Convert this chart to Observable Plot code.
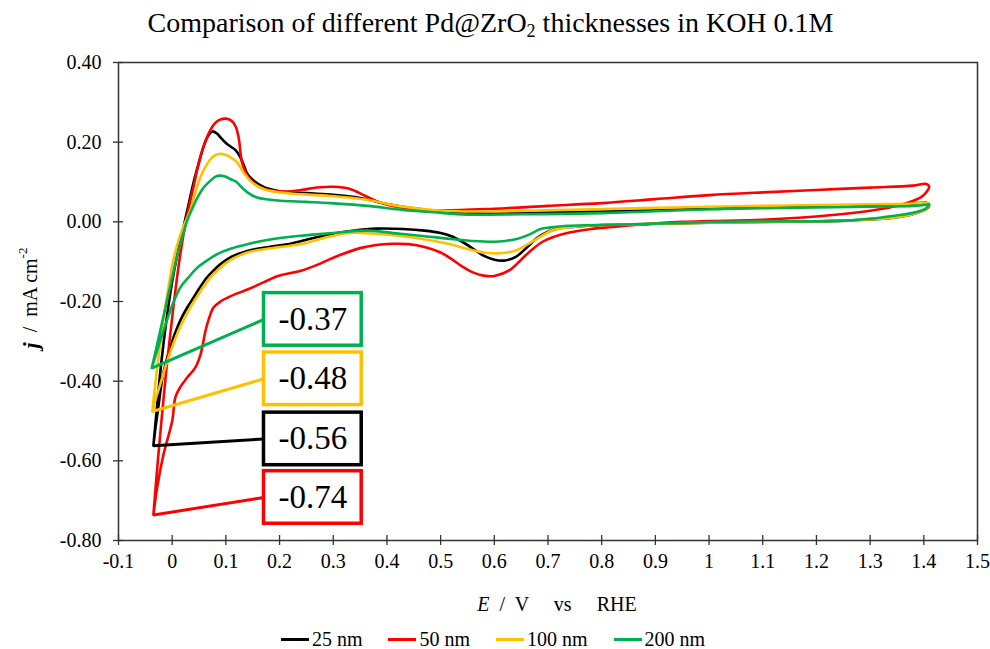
<!DOCTYPE html>
<html><head><meta charset="utf-8">
<script src="https://cdn.jsdelivr.net/npm/d3@7"></script>
<script src="https://cdn.jsdelivr.net/npm/@observablehq/plot@0.6"></script>
<style>
body{margin:0;background:#fff;font-family:"Liberation Serif","Times New Roman",serif;color:#000;}
#wrap{position:relative;width:990px;height:649px;overflow:hidden;}
#title{position:absolute;left:0;top:9px;width:981px;text-align:center;font-size:28px;line-height:28px;white-space:nowrap;}
#title sub{font-size:18px;line-height:0;vertical-align:-5px;}
#chart{position:absolute;left:0;top:50px;}
#legend{position:absolute;left:0;top:628px;width:986px;display:flex;justify-content:center;gap:26px;font-size:20px;line-height:22px;}
.item{display:flex;align-items:center;gap:3px;}
.sw{width:28px;height:3px;display:inline-block;}
</style></head>
<body>
<div id="wrap">
  <div id="title">Comparison of different Pd@ZrO<sub>2</sub> thicknesses in KOH 0.1M</div>
  <div id="chart"></div>
  <div id="legend"></div>
</div>
<script>
// ---- data ----
const seriesNames = ["25 nm", "50 nm", "100 nm", "200 nm"];
const seriesColors = ["#000000", "#ff0000", "#ffc000", "#00b050"];
const xTicks = [-0.1, 0, 0.1, 0.2, 0.3, 0.4, 0.5, 0.6, 0.7, 0.8, 0.9, 1, 1.1, 1.2, 1.3, 1.4, 1.5];
const yTicks = [-0.8, -0.6, -0.4, -0.2, 0, 0.2, 0.4];

// cyclic voltammograms: [E (V vs RHE), j (mA cm-2)], anodic sweep then cathodic sweep
const cv25 = [[-0.035,-0.562],[-0.028,-0.46],[-0.02,-0.35],[-0.01,-0.24],[0.0,-0.15],[0.01,-0.08],[0.02,-0.02],[0.03,0.04],[0.04,0.10],[0.05,0.15],[0.06,0.195],[0.068,0.218],[0.075,0.227],[0.083,0.222],[0.09,0.212],[0.1,0.198],[0.11,0.188],[0.118,0.18],[0.127,0.162],[0.134,0.14],[0.14,0.12],[0.152,0.103],[0.171,0.087],[0.2,0.077],[0.25,0.072],[0.3,0.068],[0.35,0.06],[0.4,0.045],[0.45,0.034],[0.5,0.026],[0.55,0.022],[0.6,0.021],[0.7,0.023],[0.8,0.026],[0.9,0.029],[1.0,0.033],[1.1,0.036],[1.2,0.039],[1.3,0.042],[1.38,0.045],[1.405,0.048],[1.41,0.042],
 [1.405,0.032],[1.39,0.024],[1.37,0.016],[1.34,0.01],[1.3,0.006],[1.25,0.003],[1.2,0.001],[1.1,0.0],[1.0,-0.002],[0.9,-0.005],[0.8,-0.008],[0.75,-0.012],[0.72,-0.016],[0.7,-0.025],[0.68,-0.04],[0.66,-0.065],[0.64,-0.088],[0.62,-0.097],[0.6,-0.095],[0.58,-0.085],[0.56,-0.067],[0.54,-0.05],[0.52,-0.036],[0.5,-0.028],[0.47,-0.022],[0.43,-0.018],[0.38,-0.017],[0.35,-0.02],[0.3,-0.03],[0.25,-0.045],[0.22,-0.055],[0.18,-0.063],[0.14,-0.073],[0.11,-0.088],[0.09,-0.106],[0.075,-0.125],[0.065,-0.139],[0.05,-0.168],[0.04,-0.19],[0.028,-0.215],[0.015,-0.248],[0.0,-0.30],[-0.01,-0.345],[-0.018,-0.39],[-0.025,-0.457],[-0.031,-0.516],[-0.035,-0.562]];

const cv50 = [[-0.035,-0.736],[-0.028,-0.62],[-0.02,-0.5],[-0.01,-0.36],[0.0,-0.24],[0.01,-0.13],[0.02,-0.04],[0.03,0.03],[0.04,0.09],[0.05,0.15],[0.06,0.195],[0.07,0.228],[0.08,0.248],[0.09,0.257],[0.1,0.259],[0.11,0.254],[0.118,0.24],[0.124,0.21],[0.13,0.15],[0.14,0.116],[0.158,0.091],[0.18,0.08],[0.21,0.076],[0.24,0.08],[0.27,0.086],[0.3,0.088],[0.33,0.083],[0.36,0.065],[0.39,0.047],[0.44,0.033],[0.5,0.029],[0.6,0.033],[0.7,0.04],[0.8,0.047],[0.9,0.057],[1.0,0.067],[1.1,0.074],[1.2,0.080],[1.3,0.086],[1.38,0.091],[1.405,0.095],[1.41,0.088],
 [1.405,0.075],[1.395,0.062],[1.37,0.048],[1.32,0.032],[1.23,0.017],[1.1,0.005],[1.0,0.002],[0.95,0.0],[0.86,-0.008],[0.78,-0.018],[0.74,-0.027],[0.71,-0.038],[0.69,-0.05],[0.67,-0.07],[0.65,-0.095],[0.63,-0.12],[0.6,-0.136],[0.58,-0.135],[0.56,-0.127],[0.54,-0.112],[0.52,-0.093],[0.5,-0.077],[0.47,-0.063],[0.44,-0.056],[0.41,-0.055],[0.38,-0.058],[0.35,-0.066],[0.3,-0.09],[0.27,-0.108],[0.24,-0.123],[0.2,-0.135],[0.17,-0.152],[0.14,-0.17],[0.11,-0.186],[0.09,-0.2],[0.077,-0.215],[0.068,-0.245],[0.062,-0.274],[0.053,-0.332],[0.043,-0.366],[0.028,-0.391],[0.015,-0.415],[0.006,-0.44],[0.0,-0.5],[-0.016,-0.583],[-0.028,-0.667],[-0.035,-0.736]];

const cv100 = [[-0.037,-0.476],[-0.03,-0.39],[-0.02,-0.28],[-0.01,-0.19],[0.0,-0.11],[0.01,-0.055],[0.02,-0.015],[0.034,0.03],[0.046,0.086],[0.055,0.12],[0.065,0.145],[0.075,0.163],[0.089,0.171],[0.1,0.168],[0.109,0.162],[0.121,0.149],[0.133,0.124],[0.149,0.099],[0.171,0.082],[0.2,0.074],[0.22,0.071],[0.295,0.065],[0.36,0.056],[0.42,0.04],[0.49,0.029],[0.55,0.026],[0.6,0.026],[0.7,0.029],[0.8,0.032],[0.9,0.035],[1.0,0.038],[1.1,0.040],[1.2,0.042],[1.3,0.044],[1.38,0.046],[1.405,0.048],[1.41,0.043],
 [1.405,0.032],[1.39,0.024],[1.37,0.016],[1.34,0.01],[1.3,0.006],[1.25,0.003],[1.2,0.001],[1.1,0.0],[1.0,-0.002],[0.9,-0.005],[0.8,-0.008],[0.75,-0.012],[0.72,-0.017],[0.705,-0.023],[0.68,-0.042],[0.66,-0.058],[0.64,-0.072],[0.61,-0.079],[0.58,-0.077],[0.55,-0.068],[0.52,-0.057],[0.48,-0.046],[0.43,-0.036],[0.38,-0.03],[0.33,-0.028],[0.29,-0.038],[0.24,-0.056],[0.22,-0.06],[0.18,-0.067],[0.14,-0.077],[0.11,-0.095],[0.09,-0.115],[0.071,-0.14],[0.05,-0.18],[0.034,-0.215],[0.02,-0.25],[0.009,-0.282],[-0.009,-0.349],[-0.022,-0.407],[-0.032,-0.45],[-0.037,-0.476]];

const cv200 = [[-0.038,-0.367],[-0.025,-0.29],[-0.01,-0.2],[0.005,-0.11],[0.015,-0.056],[0.028,0.003],[0.038,0.035],[0.047,0.061],[0.058,0.085],[0.071,0.103],[0.08,0.113],[0.089,0.116],[0.1,0.113],[0.109,0.107],[0.12,0.1],[0.127,0.09],[0.14,0.074],[0.158,0.061],[0.18,0.056],[0.202,0.053],[0.25,0.05],[0.295,0.047],[0.363,0.04],[0.43,0.03],[0.487,0.024],[0.549,0.018],[0.65,0.019],[0.736,0.020],[0.85,0.024],[0.95,0.029],[1.021,0.032],[1.1,0.034],[1.2,0.036],[1.3,0.038],[1.381,0.04],[1.405,0.043],[1.41,0.044],
 [1.405,0.035],[1.394,0.028],[1.37,0.02],[1.349,0.016],[1.3,0.008],[1.256,0.003],[1.1,0.001],[1.021,0.0],[0.86,-0.006],[0.736,-0.01],[0.705,-0.014],[0.686,-0.018],[0.665,-0.032],[0.642,-0.043],[0.62,-0.048],[0.599,-0.05],[0.56,-0.048],[0.518,-0.043],[0.47,-0.036],[0.425,-0.03],[0.363,-0.022],[0.3,-0.028],[0.239,-0.035],[0.18,-0.045],[0.14,-0.056],[0.11,-0.067],[0.084,-0.081],[0.065,-0.097],[0.047,-0.115],[0.03,-0.14],[0.015,-0.165],[0.0,-0.21],[-0.01,-0.248],[-0.025,-0.31],[-0.038,-0.367]];

const cvList = [cv25, cv50, cv100, cv200];

// callout annotation boxes (data units)
const calloutCenterJ = [-0.545, -0.692, -0.394, -0.245];
const calloutBoxE = [0.171, 0.353];
const calloutHalfHeight = 0.066;

// ---- build ----
const rows = [];
cvList.forEach((cv, s) => cv.forEach(([E, j], i) => rows.push({series: seriesNames[s], E, j, i})));
const callouts = cvList.map((cv, s) => ({
  series: seriesNames[s],
  E0: cv[0][0], J0: cv[0][1],
  cj: calloutCenterJ[s],
  label: d3.min(cv, d => d[1]).toFixed(2)
}));

const xFmt = d => String(+d.toFixed(1));
const yFmt = d => d.toFixed(2);
const axisColor = "#333";

const plot = Plot.plot({
  width: 990, height: 570,
  marginTop: 12, marginLeft: 118, marginRight: 13, marginBottom: 80,
  style: {fontFamily: '"Liberation Serif", "Times New Roman", serif', fontSize: "20px", color: "#000", background: "#fff", overflow: "visible"},
  x: {domain: [xTicks[0], xTicks[xTicks.length - 1]], label: null},
  y: {domain: [yTicks[0], yTicks[yTicks.length - 1]], label: null},
  color: {domain: seriesNames, range: seriesColors},
  marks: [
    Plot.line(rows, {x: "E", y: "j", z: "series", stroke: "series", strokeWidth: 2.6, curve: "catmull-rom"}),
    Plot.link(callouts, {x1: "E0", y1: "J0", x2: calloutBoxE[0], y2: "cj", stroke: "series", strokeWidth: 3}),
    Plot.rect(callouts, {x1: calloutBoxE[0], x2: calloutBoxE[1], y1: d => d.cj - calloutHalfHeight, y2: d => d.cj + calloutHalfHeight, fill: "white", stroke: "series", strokeWidth: 3.5}),
    Plot.text(callouts, {x: (calloutBoxE[0] + calloutBoxE[1]) / 2, y: "cj", text: "label", fontSize: 33, fill: "#000"}),
    Plot.frame({stroke: axisColor, strokeWidth: 1.5}),
    Plot.axisX(xTicks, {tickSize: 5, tickPadding: 8, stroke: axisColor, strokeWidth: 1.3, tickFormat: xFmt, label: null, fill: "#000"}),
    Plot.axisX(xTicks, {tickSize: -5, stroke: axisColor, strokeWidth: 1.3, tickFormat: () => "", label: null}),
    Plot.axisY(yTicks, {tickSize: 5, tickPadding: 12, stroke: axisColor, strokeWidth: 1.3, tickFormat: yFmt, label: null, fill: "#000"}),
    Plot.axisY(yTicks, {tickSize: -5, stroke: axisColor, strokeWidth: 1.3, tickFormat: () => "", label: null})
  ]
});
document.getElementById("chart").appendChild(plot);

// axis titles with mixed styles
const svg = d3.select(plot);
const xt = svg.append("text")
  .attr("x", 557).attr("y", 554)
  .attr("text-anchor", "middle").attr("dominant-baseline", "central")
  .attr("font-size", 20).attr("fill", "#000").style("white-space", "pre");
xt.append("tspan").attr("font-style", "italic").text("E");
xt.append("tspan").text("  /  V     vs     RHE");

const yt = svg.append("text")
  .attr("transform", "translate(30,248) rotate(-90)")
  .attr("text-anchor", "middle").attr("dominant-baseline", "central")
  .attr("font-size", 20).attr("fill", "#000").style("white-space", "pre");
yt.append("tspan").attr("font-style", "italic").attr("font-weight", "bold").attr("font-size", 22).text("j");
yt.append("tspan").text("  /  mA cm");
yt.append("tspan").attr("font-size", 13).attr("dy", -8).text("-2");

// legend
const legend = d3.select("#legend");
seriesNames.forEach((name, i) => {
  const it = legend.append("div").attr("class", "item");
  it.append("span").attr("class", "sw").style("background", seriesColors[i]);
  it.append("span").text(name);
});
</script>
</body></html>
